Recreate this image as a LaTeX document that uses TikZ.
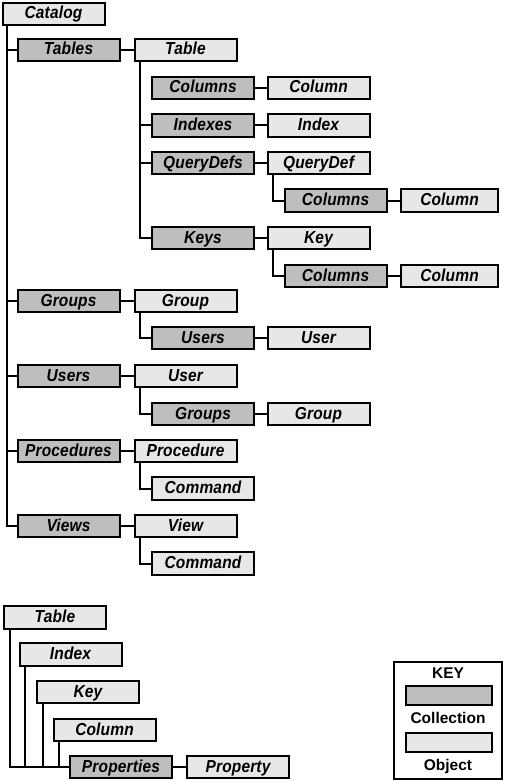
\documentclass[tikz,border=0pt]{standalone}
\usepackage{fontspec}
\setmainfont{Liberation Sans}
\newfontfamily\labfont[LetterSpace=1]{Liberation Sans}
\definecolor{collfill}{RGB}{190,190,190}
\definecolor{objfill}{RGB}{231,231,231}
\newcommand\lab[1]{\scalebox{1}[1.12]{#1}}
\begin{document}
\begin{tikzpicture}[x=1pt,y=-1pt,
  box/.style={draw=black,line width=2pt,minimum width=102pt,minimum height=22.5pt,inner sep=0pt,
    text height=12.5pt,text depth=2.5pt,
    font=\labfont\bfseries\itshape\fontsize{15.5}{17}\selectfont},
  coll/.style={box,fill=collfill},
  obj/.style={box,fill=objfill},
  narrow/.style={minimum width=97pt},
  link/.style={line width=2pt},
  legtext/.style={font=\bfseries\fontsize{15.5}{17}\selectfont,inner sep=0pt,text height=11pt,text depth=0pt},
  swatch/.style={draw=black,line width=2pt,minimum width=86pt,minimum height=19.5pt,inner sep=0pt}]
\useasboundingbox (0,0) rectangle (506,781);
% main tree
\node[obj]  (catalog)   at (53.5,14)   {\lab{Catalog}};
\node[coll] (tables)    at (68.5,50)   {\lab{Tables}};
\node[obj]  (table)     at (185.5,50)  {\lab{Table}};
\node[coll] (columnsA)  at (203,88)    {\lab{Columns}};
\node[obj]  (columnA)   at (318.5,88)  {\lab{Column}};
\node[coll] (indexes)   at (203,125.5) {\lab{Indexes}};
\node[obj]  (index)     at (318.5,125.5) {\lab{Index}};
\node[coll] (querydefs) at (203,163)   {\lab{QueryDefs}};
\node[obj]  (querydef)  at (318.5,163) {\lab{QueryDef}};
\node[coll] (columnsB)  at (335.5,200.5) {\lab{Columns}};
\node[obj,narrow]  (columnB)   at (449.5,200.5) {\lab{Column}};
\node[coll] (keys)      at (203,238)   {\lab{Keys}};
\node[obj]  (key)       at (318.5,238) {\lab{Key}};
\node[coll] (columnsC)  at (335.5,276) {\lab{Columns}};
\node[obj,narrow]  (columnC)   at (449.5,276) {\lab{Column}};
\node[coll] (groups)    at (68.5,301)  {\lab{Groups}};
\node[obj]  (group)     at (185.5,301) {\lab{Group}};
\node[coll] (usersA)    at (203,338)   {\lab{Users}};
\node[obj]  (userA)     at (318.5,338) {\lab{User}};
\node[coll] (users)     at (68.5,376)  {\lab{Users}};
\node[obj]  (user)      at (185.5,376) {\lab{User}};
\node[coll] (groupsA)   at (203,414)   {\lab{Groups}};
\node[obj]  (groupA)    at (318.5,414) {\lab{Group}};
\node[coll] (procs)     at (68.5,451)  {\lab{Procedures}};
\node[obj]  (proc)      at (185.5,451) {\lab{Procedure}};
\node[obj]  (commandA)  at (203,488.5) {\lab{Command}};
\node[coll] (views)     at (68.5,526)  {\lab{Views}};
\node[obj]  (view)      at (185.5,526) {\lab{View}};
\node[obj]  (commandB)  at (203,563.5) {\lab{Command}};
% spine coordinates
\coordinate (cspine) at ([xshift=5pt]catalog.south west);
\coordinate (tspine) at ([xshift=6pt]table.south west);
% connectors of main tree
\draw[link] (cspine) |- (views.west);
\foreach \n in {tables,groups,users,procs}
  \draw[link] (\n.west -| cspine) -- (\n.west);
\draw[link] (tables) -- (table);
\draw[link] (groups) -- (group);
\draw[link] (users) -- (user);
\draw[link] (procs) -- (proc);
\draw[link] (views) -- (view);
\draw[link] (tspine) |- (keys.west);
\foreach \n in {indexes,querydefs}
  \draw[link] (\n.west -| tspine) -- (\n.west);
\draw[link] (columnsA) -- (columnA);
\draw[link] (indexes) -- (index);
\draw[link] (querydefs) -- (querydef);
\draw[link] (keys) -- (key);
\draw[link] ([xshift=6pt]querydef.south west) |- (columnsB.west);
\draw[link] (columnsB) -- (columnB);
\draw[link] ([xshift=6pt]key.south west) |- (columnsC.west);
\draw[link] (columnsC) -- (columnC);
\draw[link] ([xshift=6pt]group.south west) |- (usersA.west);
\draw[link] (usersA) -- (userA);
\draw[link] ([xshift=6pt]user.south west) |- (groupsA.west);
\draw[link] (groupsA) -- (groupA);
\draw[link] ([xshift=6pt]proc.south west) |- (commandA.west);
\draw[link] ([xshift=6pt]view.south west) |- (commandB.west);
% properties tree
\node[obj]  (ptable)  at (55,617.5)  {\lab{Table}};
\node[obj]  (pindex)  at (70.5,654.5) {\lab{Index}};
\node[obj]  (pkey)    at (88,692)    {\lab{Key}};
\node[obj]  (pcolumn) at (104.5,730) {\lab{Column}};
\node[coll] (props)   at (121,767)   {\lab{Properties}};
\node[obj]  (prop)    at (238,767)   {\lab{Property}};
\foreach \n in {ptable,pindex,pkey,pcolumn}
  \draw[link] ([xshift=6.5pt]\n.south west) |- (props.west);
\draw[link] (props) -- (prop);
% key legend
\node[draw=black,line width=2pt,minimum width=108pt,minimum height=117pt,inner sep=0pt] (legend) at (448,720.5) {};
\node[legtext] (keytitle) at (448,672.5) {KEY};
\node[swatch,fill=collfill] (lcoll) at (449,695.5) {};
\node[legtext] (lcolltext) at (448,717.5) {Collection};
\node[swatch,fill=objfill] (lobj) at (449,742.5) {};
\node[legtext] (lobjtext) at (448,764.5) {Object};
\end{tikzpicture}
\end{document}
